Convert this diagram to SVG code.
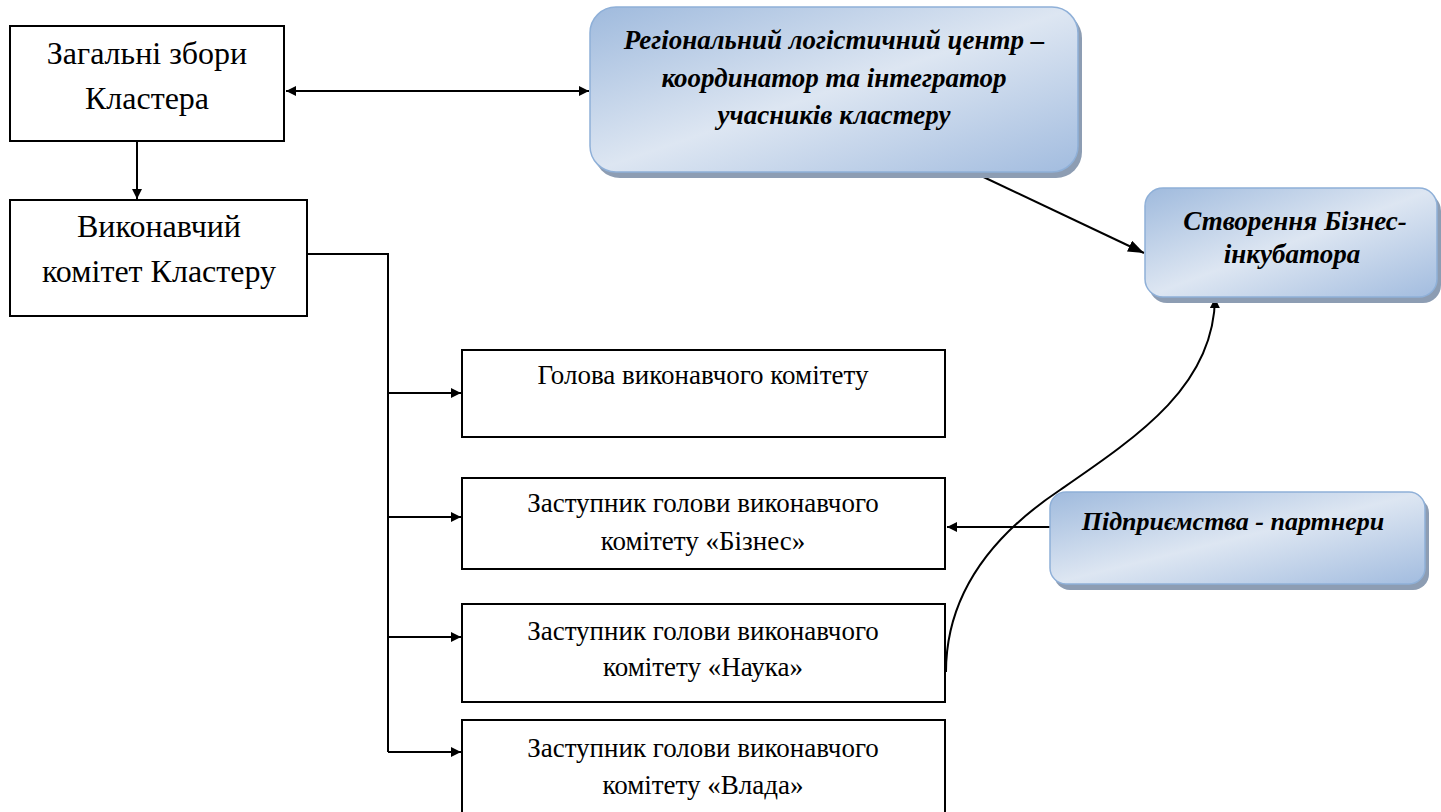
<svg xmlns="http://www.w3.org/2000/svg" width="1441" height="812" viewBox="0 0 1441 812">
<defs>
<linearGradient id="blueGrad" x1="0" y1="0" x2="1" y2="1">
<stop offset="0" stop-color="#9fbadd"/>
<stop offset="0.5" stop-color="#dde6f2"/>
<stop offset="1" stop-color="#a2bcdf"/>
</linearGradient>
<marker id="arr" viewBox="0 0 10 10" refX="10" refY="5" markerWidth="10" markerHeight="10" markerUnits="userSpaceOnUse" orient="auto-start-reverse">
<path d="M0,0 L10,5 L0,10 z" fill="#000"/>
</marker>
<marker id="arrL" viewBox="0 0 16 12" refX="16" refY="6" markerWidth="16" markerHeight="12" markerUnits="userSpaceOnUse" orient="auto-start-reverse">
<path d="M0,0 L16,6 L0,12 z" fill="#000"/>
</marker>
</defs>
<style>
.box{fill:#fff;stroke:#000;stroke-width:2}
.rbox{fill:url(#blueGrad);stroke:#8fb0d8;stroke-width:1.5}
.shadow{fill:#8d9db3}
.t{font-family:"Liberation Serif","Times New Roman",serif;fill:#000;text-anchor:middle}
.big{font-size:32px}
.mid{font-size:27px}
.bi{font-size:27px;font-weight:bold;font-style:italic}
.ln{fill:none;stroke:#000;stroke-width:2}
</style>
<rect width="1441" height="812" fill="#fff"/>
<g id="connectors">
<line class="ln" x1="286" y1="91" x2="589" y2="91" marker-start="url(#arr)" marker-end="url(#arr)"/>
<line class="ln" x1="137" y1="141" x2="137" y2="199" marker-end="url(#arr)"/>
<polyline class="ln" points="308,254 388,254 388,752"/>
<line class="ln" x1="388" y1="393" x2="461" y2="393" marker-end="url(#arr)"/>
<line class="ln" x1="388" y1="517" x2="461" y2="517" marker-end="url(#arr)"/>
<line class="ln" x1="388" y1="637" x2="461" y2="637" marker-end="url(#arr)"/>
<line class="ln" x1="388" y1="752" x2="461" y2="752" marker-end="url(#arr)"/>
<line class="ln" x1="975" y1="173" x2="1144" y2="253" marker-end="url(#arrL)"/>
<line class="ln" x1="1050" y1="527" x2="947" y2="527" marker-end="url(#arr)"/>
<path class="ln" d="M946,672 C946,600 985,540 1060,490 C1140,435 1214,385 1215,298" marker-end="url(#arr)"/>
</g>
<g id="n-zagalni">
<rect class="box" x="10" y="26" width="274" height="115"/>
<text class="t big" x="147" y="64">Загальні збори</text>
<text class="t big" x="147" y="109">Кластера</text>
</g>
<g id="n-vykonavchyi">
<rect class="box" x="10" y="200" width="297" height="116"/>
<text class="t big" x="159" y="237">Виконавчий</text>
<text class="t big" x="159" y="282">комітет Кластеру</text>
</g>
<g id="n-holova">
<rect class="box" x="462" y="350" width="483" height="87"/>
<text class="t mid" x="703" y="384">Голова виконавчого комітету</text>
</g>
<g id="n-biznes">
<rect class="box" x="462" y="478" width="483" height="91"/>
<text class="t mid" x="703" y="512">Заступник голови виконавчого</text>
<text class="t mid" x="703" y="550">комітету «Бізнес»</text>
</g>
<g id="n-nauka">
<rect class="box" x="462" y="604" width="483" height="98"/>
<text class="t mid" x="703" y="640">Заступник голови виконавчого</text>
<text class="t mid" x="703" y="676">комітету «Наука»</text>
</g>
<g id="n-vlada">
<rect class="box" x="462" y="720" width="483" height="96"/>
<text class="t mid" x="703" y="757">Заступник голови виконавчого</text>
<text class="t mid" x="703" y="794">комітету «Влада»</text>
</g>
<g id="n-regional">
<rect class="shadow" x="594" y="12" width="488" height="166" rx="26"/>
<rect class="rbox" x="590" y="7" width="488" height="165" rx="26"/>
<text class="t bi" x="834" y="49">Регіональний логістичний центр –</text>
<text class="t bi" x="834" y="87">координатор та інтегратор</text>
<text class="t bi" x="834" y="124">учасників кластеру</text>
</g>
<g id="n-inkubator">
<rect class="shadow" x="1149" y="193" width="292" height="110" rx="18"/>
<rect class="rbox" x="1145" y="188" width="292" height="109" rx="18"/>
<text class="t bi" x="1295" y="230">Створення Бізнес-</text>
<text class="t bi" x="1292" y="263">інкубатора</text>
</g>
<g id="n-pidpryiemstva">
<rect class="shadow" x="1054" y="497" width="375" height="93" rx="16"/>
<rect class="rbox" x="1050" y="492" width="375" height="92" rx="16"/>
<text class="t bi" x="1233" y="530" style="font-size:26px">Підприємства - партнери</text>
</g>
</svg>
